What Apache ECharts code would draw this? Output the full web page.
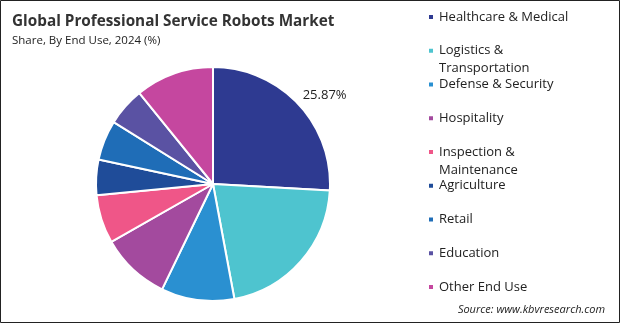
<!DOCTYPE html>
<html>
<head>
<meta charset="utf-8">
<script src="https://cdn.jsdelivr.net/npm/echarts@6/dist/echarts.min.js"></script>
<style>
html,body{margin:0;padding:0;background:#fff;}
#chart{width:620px;height:323px;}
</style>
</head>
<body>
<div id="chart"></div>
<script>
const categories = [
  "Healthcare & Medical",
  "Logistics &\nTransportation",
  "Defense & Security",
  "Hospitality",
  "Inspection &\nMaintenance",
  "Agriculture",
  "Retail",
  "Education",
  "Other End Use"
];
const shares = [25.87, 21.2, 10.1, 9.6, 6.7, 4.9, 5.5, 5.3, 10.83];
const colors = ["#2E3A91", "#4EC4CF", "#2A90D1", "#A34A9E", "#EF5688", "#1F4C99", "#1F6DB7", "#5A52A3", "#C5479F"];
const labeledIndex = 0;

const chart = echarts.init(document.getElementById('chart'));
const FONT = '"Open Sans", sans-serif';
const LINE_H = 18;

const legends = categories.map((name, i) => {
  const twoLine = name.indexOf('\n') >= 0;
  const markerY = 17 + i * 33.75;
  return {
    left: 427,
    top: markerY - (twoLine ? LINE_H * 1.5 : LINE_H / 2),
    orient: 'vertical',
    data: [name],
    icon: 'rect',
    itemWidth: 6,
    itemHeight: 6,
    itemGap: 0,
    padding: 0,
    selectedMode: false,
    formatter: (n) => (n.indexOf('\n') >= 0 ? ' \n' + n : n),
    textStyle: {
      fontFamily: FONT,
      fontSize: 13,
      color: '#222',
      lineHeight: LINE_H
    }
  };
});

chart.setOption({
  animation: false,
  color: colors,
  title: [
    {
      text: 'Global Professional Service Robots Market',
      left: 12, top: 14, padding: 0,
      textStyle: {fontFamily: FONT, fontSize: 15.3, fontWeight: 'bold', color: '#333'}
    },
    {
      text: 'Share, By End Use, 2024 (%)',
      left: 12, top: 35, padding: 0,
      textStyle: {fontFamily: FONT, fontSize: 11.5, fontWeight: 'normal', color: '#222'}
    },
    {
      text: 'Source: www.kbvresearch.com',
      right: 15, top: 304, padding: 0,
      textStyle: {fontFamily: FONT, fontSize: 11, fontStyle: 'italic', fontWeight: 'normal', color: '#222'}
    }
  ],
  legend: legends,
  graphic: [{
    type: 'rect', silent: true,
    shape: {x: 0.5, y: 0.5, width: 619, height: 322},
    style: {fill: 'none', stroke: '#222', lineWidth: 1}
  }],
  series: [{
    type: 'pie',
    center: [213, 184],
    radius: [0, 117],
    startAngle: 90,
    clockwise: true,
    avoidLabelOverlap: false,
    itemStyle: {borderColor: '#fff', borderWidth: 2},
    label: {show: false},
    labelLine: {show: false},
    emphasis: {disabled: true},
    data: categories.map((name, i) => ({
      name: name,
      value: shares[i],
      label: i === labeledIndex ? {
        show: true, position: 'outside', distanceToLabelLine: -4,
        formatter: (p) => p.value.toFixed(2) + '%',
        fontFamily: FONT, fontSize: 13, color: '#222'
      } : {show: false},
      labelLine: i === labeledIndex ? {show: false, length: 12, length2: 0} : {show: false}
    }))
  }]
});
</script>
</body>
</html>
